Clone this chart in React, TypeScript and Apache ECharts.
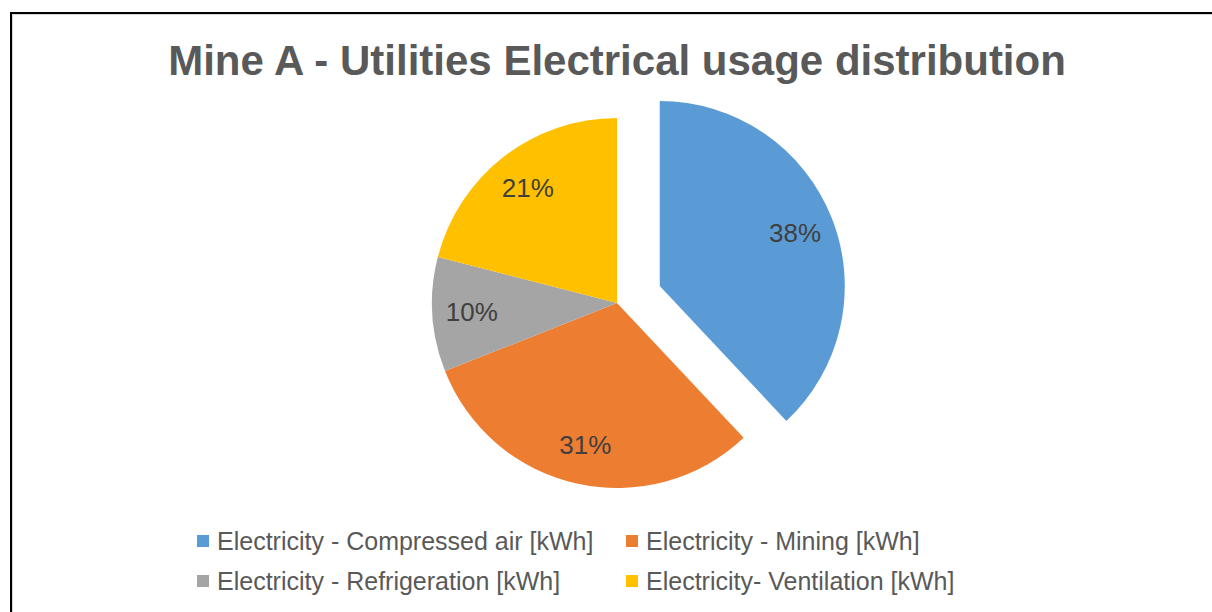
import React, { useEffect, useRef } from "react";
import * as echarts from "echarts";

const titleText = "Mine A - Utilities Electrical usage distribution";
const categories = [
  "Electricity - Compressed air [kWh]",
  "Electricity - Mining [kWh]",
  "Electricity - Refrigeration [kWh]",
  "Electricity- Ventilation [kWh]",
];
const shares = [38, 31, 10, 21];
const colors = ["#5B9BD5", "#ED7D31", "#A5A5A5", "#FFC000"];
const explodedIndex = 0;

const FONT = "'Liberation Sans', Arial, Helvetica, sans-serif";

export default function App() {
  const ref = useRef<HTMLDivElement>(null);
  useEffect(() => {
    if (!ref.current) return;
    const chart = echarts.init(ref.current, undefined, { renderer: "svg" });
    const mainData = categories.map((name, i) => ({
      name,
      value: shares[i],
      selected: i === explodedIndex,
      itemStyle: { color: colors[i] },
    }));
    const labelData = categories.map((name, i) => ({
      name,
      value: shares[i],
      selected: i === explodedIndex,
    }));
    const legendCommon = {
      orient: "vertical" as const,
      icon: "rect",
      itemWidth: 12,
      itemHeight: 12,
      itemGap: 14,
      padding: 0,
      selectedMode: false,
      textStyle: {
        color: "#595959",
        fontSize: 25,
        fontFamily: FONT,
        lineHeight: 26,
        padding: [0, 0, 0, 3],
      },
    };
    chart.setOption({
      animation: false,
      backgroundColor: "#ffffff",
      graphic: [
        {
          type: "rect",
          shape: { x: 11, y: 13, width: 1400, height: 800 },
          style: { fill: "none", stroke: "#000000", lineWidth: 2 },
          silent: true,
        },
        {
          type: "rect",
          shape: { x: 12.5, y: 14.5, width: 1400, height: 800 },
          style: { fill: "none", stroke: "#d4d4d4", lineWidth: 1 },
          silent: true,
        },
        {
          type: "text",
          x: 617,
          y: 60,
          style: {
            text: titleText,
            fill: "#595959",
            font: `bold 42px ${FONT}`,
            textAlign: "center",
            textVerticalAlign: "middle",
          },
          silent: true,
        },
      ],
      legend: [
        {
          ...legendCommon,
          left: 197,
          top: 528,
          data: [categories[0], categories[2]],
        },
        {
          ...legendCommon,
          left: 626,
          top: 528,
          data: [categories[1], categories[3]],
        },
      ],
      series: [
        {
          type: "pie",
          center: [617, 303],
          radius: [0, 185],
          startAngle: 90,
          clockwise: true,
          selectedMode: "single",
          selectedOffset: 46,
          silent: true,
          label: { show: false },
          labelLine: { show: false },
          itemStyle: { borderWidth: 0 },
          emphasis: { disabled: true },
          data: mainData,
        },
        {
          type: "pie",
          center: [617, 303],
          radius: [100, 185],
          startAngle: 90,
          clockwise: true,
          selectedMode: "single",
          selectedOffset: 46,
          silent: true,
          itemStyle: { color: "rgba(0,0,0,0)", borderWidth: 0 },
          emphasis: { disabled: true },
          label: {
            show: true,
            position: "inside",
            color: "#404040",
            fontSize: 26,
            fontFamily: FONT,
            formatter: (p: any) => `${Math.round(p.percent)}%`,
          },
          labelLine: { show: false },
          data: labelData,
        },
      ],
    });
    return () => chart.dispose();
  }, []);
  return (
    <div
      ref={ref}
      style={{ position: "fixed", left: 0, top: 0, width: 1212, height: 612 }}
    />
  );
}
